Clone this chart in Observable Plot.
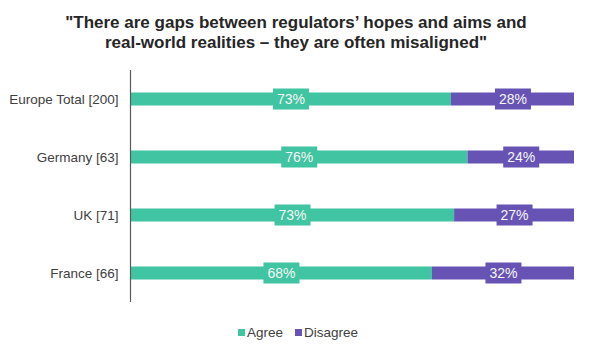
<!DOCTYPE html>
<html>
<head>
<meta charset="utf-8">
<script src="https://cdn.jsdelivr.net/npm/d3@7"></script>
<script src="https://cdn.jsdelivr.net/npm/@observablehq/plot@0.6"></script>
<style>
  body { margin: 0; background: #fff; width: 592px; font-family: "Liberation Sans", Arial, sans-serif; }
  #title { box-sizing: border-box; height: 56px; padding-top: 13px; text-align: center; font-weight: bold; font-size: 17px; line-height: 19.5px; color: #262626; }
  #chart svg { display: block; }
  #legend { display: flex; justify-content: center; align-items: center; height: 32px; font-size: 13.5px; color: #404040; padding-left: 4px; }
  .item { display: flex; align-items: center; margin: 0 6px; }
  .sw { width: 7px; height: 7px; margin-right: 2px; }
</style>
</head>
<body>
<div id="title">"There are gaps between regulators’ hopes and aims and<br>real-world realities – they are often misaligned"</div>
<div id="chart"></div>
<div id="legend"></div>
<script>
const categories = ["Europe Total [200]", "Germany [63]", "UK [71]", "France [66]"];
const agree = [73, 76, 73, 68];
const disagree = [28, 24, 27, 32];
const seriesNames = ["Agree", "Disagree"];
const colors = ["#41C4A2", "#6753B3"];

const data = categories.flatMap((c, i) => [
  {cat: c, series: seriesNames[0], value: agree[i]},
  {cat: c, series: seriesNames[1], value: disagree[i]}
]);

const chart = Plot.plot({
  width: 592,
  height: 260,
  marginLeft: 130,
  marginRight: 18,
  marginTop: 14,
  marginBottom: 14,
  x: {domain: [0, 1], axis: null},
  y: {domain: categories, padding: 0, label: null, tickSize: 0, tickPadding: 12},
  color: {domain: seriesNames, range: colors},
  style: {fontFamily: "'Liberation Sans', Arial, sans-serif", fontSize: "13.5px", color: "#404040", background: "#fff"},
  marks: [
    Plot.barX(data, Plot.stackX({offset: "normalize", x: "value", y: "cat", fill: "series", insetTop: 22.5, insetBottom: 22.5})),
    Plot.tickX(data, Plot.stackX({offset: "normalize", x: "value", y: "cat", stroke: "series", strokeWidth: 36, insetTop: 18.5, insetBottom: 18.5})),
    Plot.text(data, Plot.stackX({offset: "normalize", x: "value", y: "cat", text: d => d.value + "%", fill: "#f6f6f6", fontSize: 14})),
    Plot.ruleX([0], {stroke: "#5a5a5a", strokeWidth: 1.2})
  ]
});
document.getElementById("chart").appendChild(chart);

const legend = document.getElementById("legend");
seriesNames.forEach((s, i) => {
  const item = document.createElement("div");
  item.className = "item";
  const sw = document.createElement("span");
  sw.className = "sw";
  sw.style.background = colors[i];
  const t = document.createElement("span");
  t.textContent = s;
  item.appendChild(sw);
  item.appendChild(t);
  legend.appendChild(item);
});
</script>
</body>
</html>
